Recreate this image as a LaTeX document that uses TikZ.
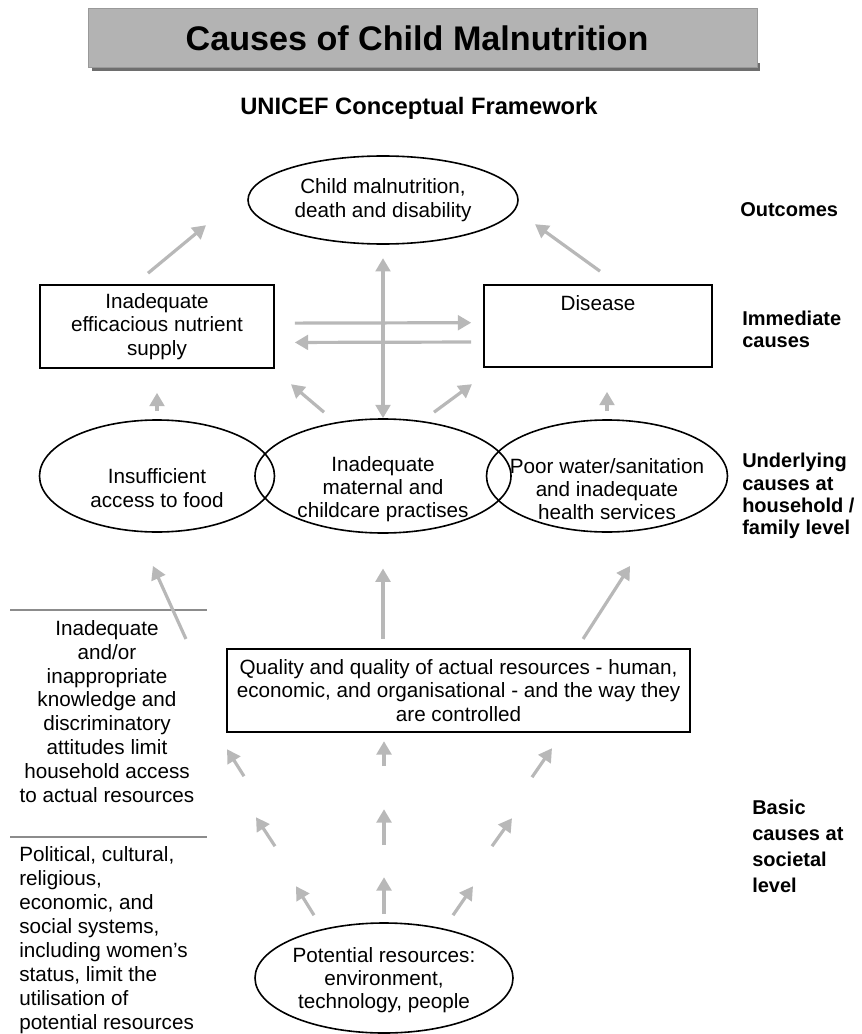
\documentclass[tikz,border=0pt]{standalone}
\usepackage{fontspec}
\setmainfont{Liberation Sans}
\usetikzlibrary{arrows.meta,shapes.geometric,calc}

\definecolor{arrowgray}{HTML}{B8B8B8}
\definecolor{bargray}{HTML}{B3B3B3}
\definecolor{barshade}{HTML}{6E6E6E}
\definecolor{rulegray}{HTML}{8C8C8C}

\tikzset{
  bodytext/.style={font=\fontsize{15.5}{17.5}\selectfont, align=center, inner sep=0pt},
  causebox/.style={bodytext, draw, line width=1.2pt, rectangle},
  causeoval/.style={draw, line width=1.2pt, ellipse, inner sep=0pt},
  levellabel/.style={font=\bfseries\fontsize{15}{17}\selectfont, align=left, anchor=west, inner sep=0pt},
  garrow/.style={draw=arrowgray, line width=2.4pt, -{Triangle[length=10pt,width=11pt]}},
}

\begin{document}
\begin{tikzpicture}[x=0.75pt,y=-0.75pt]
\useasboundingbox (0,0) rectangle (861,1034);

% title bar
\fill[barshade] (92,63) rectangle (760,71);
\filldraw[fill=bargray, draw=gray!80] (88,8) rectangle (757,67);
\node[font=\bfseries\fontsize{25.6}{30}\selectfont, inner sep=0pt] (title) at (417,38) {Causes of Child Malnutrition};
\node[font=\bfseries\fontsize{17.8}{21}\selectfont, inner sep=0pt] (subtitle) at (419,108) {UNICEF Conceptual Framework};

% outcome
\node[causeoval, minimum width=202.5pt, minimum height=66pt] (child) at (383,200) {};
\node[bodytext] (child-t) at (383,200) {Child malnutrition,\\death and disability};

% immediate causes
\node[causebox, minimum width=175.5pt, minimum height=62.25pt] (nutrient) at (157,326.5) {Inadequate\\efficacious nutrient\\supply};
\node[causebox, minimum width=171pt, minimum height=61.5pt] (disease) at (598,326) {Disease\\~\\~};

% underlying causes
\node[causeoval, minimum width=176.25pt, minimum height=84pt] (food) at (157,476) {};
\node[causeoval, minimum width=192pt, minimum height=85.5pt] (care) at (383,476) {};
\node[causeoval, minimum width=180.75pt, minimum height=84pt] (water) at (607,476) {};
\node[bodytext] (food-t) at (157,488) {Insufficient\\access to food};
\node[bodytext] (care-t) at (383,489) {Inadequate\\maternal and\\childcare practises};
\node[bodytext] (water-t) at (607,489) {Poor water/sanitation\\and inadequate\\health services};

% basic causes
\node[causebox, line width=1.6pt, minimum width=347.25pt, minimum height=62.25pt] (resources) at (458.5,690.5) {Quality and quality of actual resources - human,\\economic, and organisational - and the way they\\are controlled};
\node[causeoval, minimum width=193.5pt, minimum height=82.5pt] (potential) at (384,978) {};
\node[bodytext] (potential-t) at (384,980) {Potential resources:\\environment,\\technology, people};

% left notes
\draw[rulegray, line width=1.5pt] (10,610) -- (207,610);
\draw[rulegray, line width=1.5pt] (10,837) -- (207,837);
\node[bodytext, font=\fontsize{15.5}{17.9}\selectfont] (knowledge) at (107,711.5) {Inadequate\\and/or\\inappropriate\\knowledge and\\discriminatory\\attitudes limit\\household access\\to actual resources};
\node[bodytext, font=\fontsize{15.5}{18}\selectfont, align=left, anchor=west] (systems) at (19,940) {Political, cultural,\\religious,\\economic, and\\social systems,\\including women’s\\status, limit the\\utilisation of\\potential resources};

% level labels
\node[levellabel] (outcomes) at (740,210) {Outcomes};
\node[levellabel] (immediate) at (742,329.5) {Immediate\\causes};
\node[levellabel, font=\bfseries\fontsize{15}{16.7}\selectfont] (underlying) at (742,496) {Underlying\\causes at\\household /\\family level};
\node[levellabel, font=\bfseries\fontsize{15}{19.5}\selectfont] (basic) at (752,846) {Basic\\causes at\\societal\\level};

% arrows to outcome
\draw[garrow] ([shift={(-9,-11)}]nutrient.north) -- ++(58,-48);
\draw[garrow] ([shift={(2,-13)}]disease.north) -- ++(-65,-47);
\draw[garrow, {Triangle[length=10pt,width=11pt]}-{Triangle[length=10pt,width=11pt]}, shorten >=10pt] (care.north) -- (child.south);

% between immediate causes
\draw[garrow, shorten <=15pt, shorten >=9pt] ([yshift=2.5pt]nutrient.east) -- ([yshift=2.5pt]disease.west);
\draw[garrow, shorten <=9pt, shorten >=15pt] ([yshift=-12pt]disease.west) -- ([yshift=-12pt]nutrient.east);

% underlying to immediate
\draw[garrow, shorten <=6pt, shorten >=18pt] (food.north) -- (nutrient.south);
\draw[garrow] ([shift={(-59,-6)}]care.north) -- ++(-33,-28);
\draw[garrow] ([shift={(51,-6)}]care.north) -- ++(38,-28);
\draw[garrow, shorten <=6pt, shorten >=18pt] (water.north) -- (water.north |- disease.south);

% resources to underlying
\draw[garrow] ([shift={(-40,-9)}]resources.north west) -- ++(-33,-73);
\draw[garrow, shorten <=7pt, shorten >=26pt] (care.south |- resources.north) -- (care.south);
\draw[garrow] ([shift={(-108,-9)}]resources.north east) -- ++(47,-73);

% potential to actual resources
\draw[garrow] ([shift={(-70,-7)}]potential.north) -- ++(-18,-29);
\draw[garrow] ([shift={(0,-8)}]potential.north) -- ++(0,-37);
\draw[garrow] ([shift={(69,-7)}]potential.north) -- ++(20,-29);
\draw[garrow] ([shift={(-109,-76)}]potential.north) -- ++(-19,-29);
\draw[garrow] ([shift={(0,-77)}]potential.north) -- ++(0,-36);
\draw[garrow] ([shift={(108,-76)}]potential.north) -- ++(20,-28);
\draw[garrow] ([shift={(-140,-146)}]potential.north) -- ++(-17,-27);
\draw[garrow] ([shift={(0,-156)}]potential.north) -- ++(0,-25);
\draw[garrow] ([shift={(148,-145)}]potential.north) -- ++(20,-29);
\end{tikzpicture}
\end{document}
